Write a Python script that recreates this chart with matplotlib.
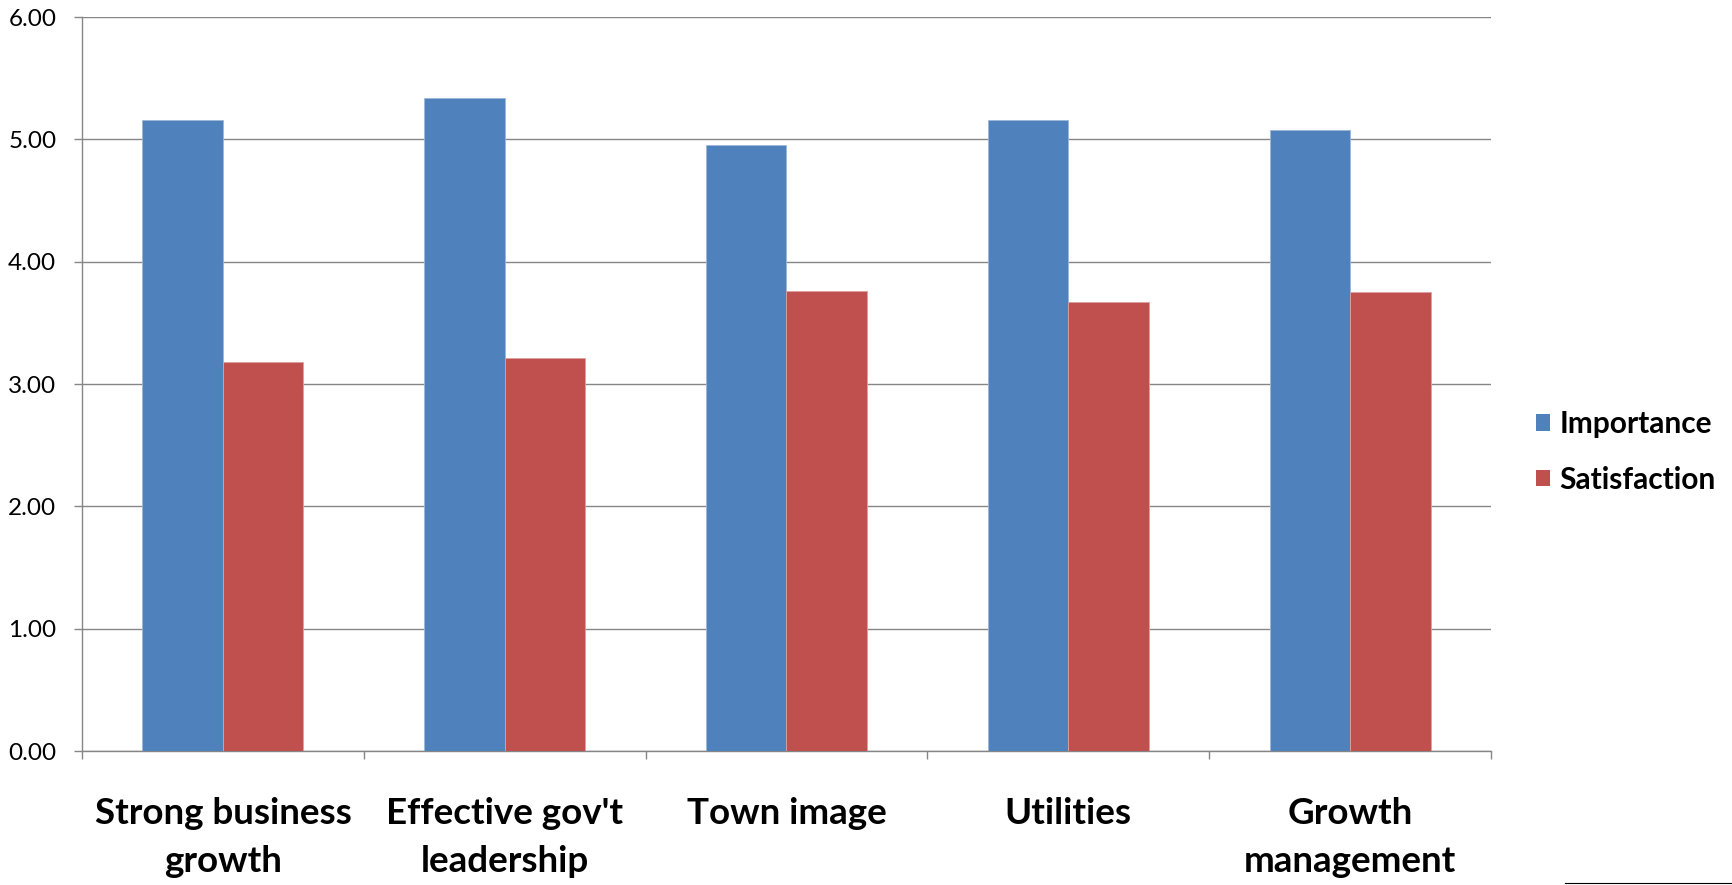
import numpy as np
import matplotlib
matplotlib.use("Agg")
import matplotlib.pyplot as plt
from matplotlib.patches import Patch
from matplotlib.lines import Line2D

categories = ["Strong business\ngrowth", "Effective gov't\nleadership", "Town image",
              "Utilities", "Growth\nmanagement"]
importance = [5.16, 5.34, 4.95, 5.16, 5.08]
satisfaction = [3.18, 3.21, 3.76, 3.67, 3.75]
series_names = ["Importance", "Satisfaction"]
yticks = [0, 1, 2, 3, 4, 5, 6]

plt.rcParams['font.family'] = ['Lato', 'DejaVu Sans']

W, H = 1733, 885
fig = plt.figure(figsize=(W / 100, H / 100), dpi=100)
ax = fig.add_axes([82 / W, 1 - 751 / H, (1491 - 82) / W, (751 - 17) / H])

blue = "#4F81BD"
red = "#C0504D"
grid = "#868686"
w = 0.286
x = np.arange(len(categories))
ax.bar(x - w / 2, importance, w, color=blue, edgecolor="#9DB7DA", linewidth=0.6, zorder=3)
ax.bar(x + w / 2, satisfaction, w, color=red, edgecolor="#DDA0A0", linewidth=0.6, zorder=3)

ax.set_xlim(-0.5, len(categories) - 0.5)
ax.set_ylim(0, 6)
ax.set_yticks(yticks)
ax.set_yticklabels([f"{v:.2f}" for v in yticks], fontsize=17.5)
ax.yaxis.grid(True, color=grid, linewidth=1.0, zorder=0)
ax.set_axisbelow(True)

ax.set_xticks(np.arange(-0.5, len(categories), 1.0))
ax.set_xticklabels([])
ax.set_xticks(x, minor=True)
ax.set_xticklabels(categories, minor=True, fontsize=26.5, fontweight='bold',
                   va='top', ha='center', multialignment='center', linespacing=1.55)
ax.tick_params(axis='x', which='minor', length=0, pad=33)
ax.tick_params(axis='x', which='major', length=5.5, width=1.0, color=grid, direction='out')
ax.tick_params(axis='y', length=5.5, width=1.0, color=grid, direction='out', pad=13)

for s in ['top', 'right']:
    ax.spines[s].set_visible(False)
for s in ['left', 'bottom']:
    ax.spines[s].set_color(grid)
    ax.spines[s].set_linewidth(1.0)

handles = [Patch(facecolor=blue), Patch(facecolor=red)]
fig.legend(handles, series_names, loc='center left',
           bbox_to_anchor=(1536 / W, 1 - 452 / H), frameon=False,
           borderpad=0, borderaxespad=0,
           prop={'family': ['Lato', 'DejaVu Sans'], 'weight': 'bold', 'size': 21.5},
           handlelength=0.48, handleheight=0.48, handletextpad=0.3, labelspacing=0.92)

fig.add_artist(Line2D([1565 / W, 1.0], [1 - 883 / H, 1 - 883 / H], color='black',
                      linewidth=0.8, transform=fig.transFigure))

fig.savefig("out.png", dpi=100, facecolor='white')
